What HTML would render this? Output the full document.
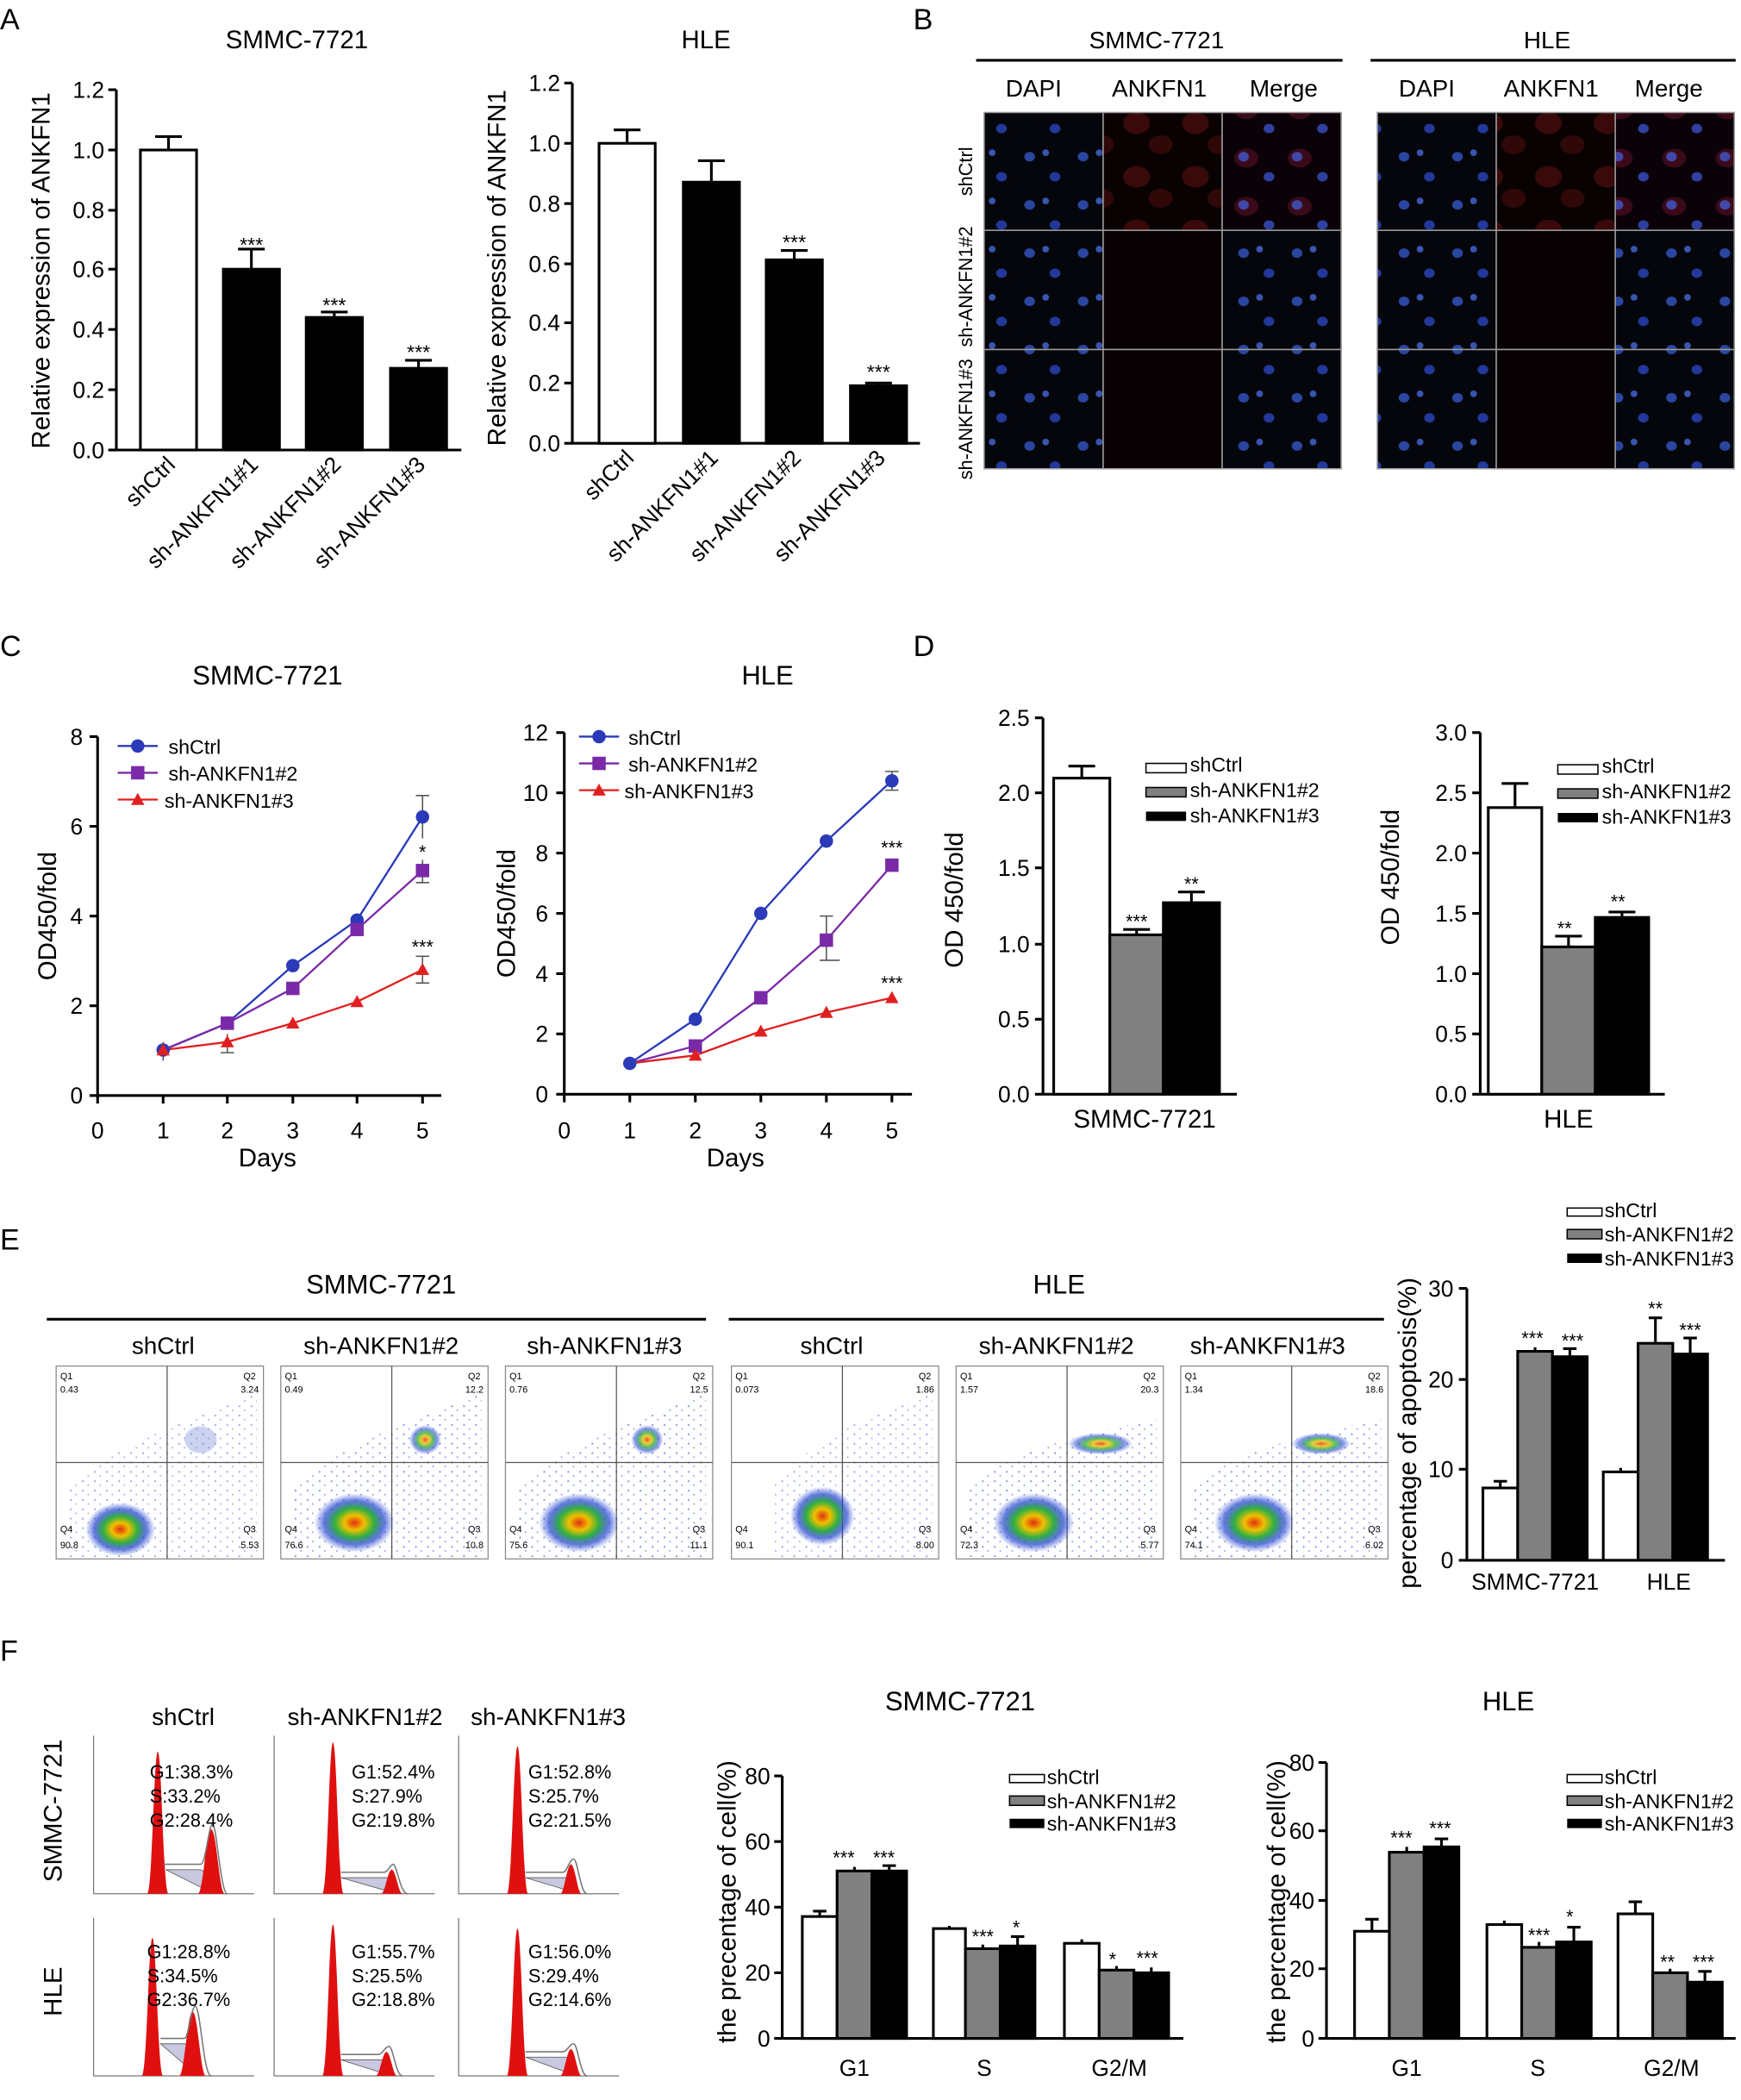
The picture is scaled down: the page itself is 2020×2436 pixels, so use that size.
<!DOCTYPE html><html><head><meta charset="utf-8"><style>body{margin:0;background:#fff}svg{display:block}text{font-family:"Liberation Sans",Arial,sans-serif}</style></head><body>
<svg width="2020" height="2436" viewBox="0 0 1302 1568" preserveAspectRatio="none" xmlns="http://www.w3.org/2000/svg">
<defs>
<pattern id="dots" width="40" height="36" patternUnits="userSpaceOnUse"><rect width="40" height="36" fill="#05060c"/><ellipse cx="10" cy="9" rx="4" ry="3.5" fill="#2a46a0"/><ellipse cx="29" cy="24" rx="4" ry="3.5" fill="#22389a"/><ellipse cx="22" cy="6" rx="2.5" ry="2.5" fill="#3a55b0"/></pattern>
<pattern id="red" width="44" height="40" patternUnits="userSpaceOnUse"><rect width="44" height="40" fill="#0a0202"/><ellipse cx="14" cy="12" rx="10" ry="8" fill="#3a0a0a"/><ellipse cx="32" cy="28" rx="9" ry="7" fill="#300808"/></pattern>
<pattern id="mer" width="40" height="36" patternUnits="userSpaceOnUse"><rect width="40" height="36" fill="#0a0208"/><ellipse cx="12" cy="10" rx="9" ry="7" fill="#3a0a18"/><ellipse cx="10" cy="9" rx="4" ry="3.5" fill="#4048a8"/><ellipse cx="29" cy="24" rx="4" ry="3.5" fill="#3040a0"/></pattern>
<pattern id="scat" width="9" height="7" patternUnits="userSpaceOnUse"><circle cx="2" cy="2" r=".7" fill="#3050d0"/><circle cx="6" cy="5" r=".6" fill="#3050d0"/></pattern>
<radialGradient id="blob"><stop offset="0" stop-color="#e03010"/><stop offset="0.25" stop-color="#f0c000"/><stop offset="0.5" stop-color="#30b040"/><stop offset="0.75" stop-color="#2040d0" stop-opacity=".7"/><stop offset="1" stop-color="#2040d0" stop-opacity="0"/></radialGradient>
</defs>
<g font-size="22">
<text x="0" y="22">A</text><text x="683" y="22">B</text><text x="0" y="490">C</text><text x="683" y="490">D</text><text x="0" y="933">E</text><text x="0" y="1240">F</text>
</g>
<!-- A left -->
<g font-size="17" fill="#000">
<text x="222" y="36" text-anchor="middle" font-size="19">SMMC-7721</text>
<text x="528" y="36" text-anchor="middle" font-size="19">HLE</text>
<g stroke="#000" stroke-width="2"><line x1="87" y1="67" x2="87" y2="336"/><line x1="87" y1="336" x2="345" y2="336"/>
<line x1="81" y1="336" x2="87" y2="336"/><line x1="81" y1="291" x2="87" y2="291"/><line x1="81" y1="246" x2="87" y2="246"/><line x1="81" y1="201" x2="87" y2="201"/><line x1="81" y1="157" x2="87" y2="157"/><line x1="81" y1="112" x2="87" y2="112"/><line x1="81" y1="67" x2="87" y2="67"/></g>
<g text-anchor="end"><text x="78" y="342">0.0</text><text x="78" y="297">0.2</text><text x="78" y="252">0.4</text><text x="78" y="207">0.6</text><text x="78" y="163">0.8</text><text x="78" y="118">1.0</text><text x="78" y="73">1.2</text></g>
<text transform="translate(37,202) rotate(-90)" text-anchor="middle" font-size="19">Relative expression of ANKFN1</text>
<g stroke="#000" stroke-width="2"><rect x="105" y="112" width="42" height="224" fill="#fff"/><rect x="167" y="201" width="42" height="135"/><rect x="229" y="237" width="42" height="99"/><rect x="292" y="275" width="42" height="61"/>
<path d="M126 112V102M116 102H136M188 201V186M178 186H198M250 237V233M240 233H260M313 275V269M303 269H323" fill="none"/></g>
<g text-anchor="middle" font-size="15"><text x="188" y="188">***</text><text x="250" y="233">***</text><text x="313" y="268">***</text></g>
<g text-anchor="end"><text transform="translate(132,348) rotate(-45)">shCtrl</text><text transform="translate(194,348) rotate(-45)">sh-ANKFN1#1</text><text transform="translate(256,348) rotate(-45)">sh-ANKFN1#2</text><text transform="translate(319,348) rotate(-45)">sh-ANKFN1#3</text></g>
<!-- A right -->
<g stroke="#000" stroke-width="2"><line x1="428" y1="62" x2="428" y2="331"/><line x1="428" y1="331" x2="688" y2="331"/>
<line x1="422" y1="331" x2="428" y2="331"/><line x1="422" y1="286" x2="428" y2="286"/><line x1="422" y1="241" x2="428" y2="241"/><line x1="422" y1="197" x2="428" y2="197"/><line x1="422" y1="152" x2="428" y2="152"/><line x1="422" y1="107" x2="428" y2="107"/><line x1="422" y1="62" x2="428" y2="62"/></g>
<g text-anchor="end"><text x="419" y="337">0.0</text><text x="419" y="292">0.2</text><text x="419" y="247">0.4</text><text x="419" y="203">0.6</text><text x="419" y="158">0.8</text><text x="419" y="113">1.0</text><text x="419" y="68">1.2</text></g>
<text transform="translate(378,200) rotate(-90)" text-anchor="middle" font-size="19">Relative expression of ANKFN1</text>
<g stroke="#000" stroke-width="2"><rect x="448" y="107" width="42" height="224" fill="#fff"/><rect x="511" y="136" width="42" height="195"/><rect x="573" y="194" width="42" height="137"/><rect x="636" y="288" width="42" height="43"/>
<path d="M469 107V97M459 97H479M532 136V120M522 120H542M594 194V187M584 187H604M657 288V286M647 286H667" fill="none"/></g>
<g text-anchor="middle" font-size="15"><text x="594" y="186">***</text><text x="657" y="283">***</text></g>
<g text-anchor="end"><text transform="translate(475,343) rotate(-45)">shCtrl</text><text transform="translate(538,343) rotate(-45)">sh-ANKFN1#1</text><text transform="translate(600,343) rotate(-45)">sh-ANKFN1#2</text><text transform="translate(663,343) rotate(-45)">sh-ANKFN1#3</text></g>
</g>
<!-- B -->
<g font-size="18" text-anchor="middle">
<text x="865" y="36">SMMC-7721</text><text x="1157" y="36">HLE</text>
<line x1="730" y1="45" x2="1004" y2="45" stroke="#000" stroke-width="2"/><line x1="1025" y1="45" x2="1298" y2="45" stroke="#000" stroke-width="2"/>
<text x="773" y="72">DAPI</text><text x="867" y="72">ANKFN1</text><text x="960" y="72">Merge</text>
<text x="1067" y="72">DAPI</text><text x="1160" y="72">ANKFN1</text><text x="1248" y="72">Merge</text>
<g font-size="14"><text transform="translate(727,128) rotate(-90)">shCtrl</text><text transform="translate(727,214) rotate(-90)">sh-ANKFN1#2</text><text transform="translate(727,313) rotate(-90)">sh-ANKFN1#3</text></g>
</g>
<g stroke="#999" stroke-width="1">
<rect x="736" y="84" width="89" height="88" fill="url(#dots)"/><rect x="825" y="84" width="89" height="88" fill="url(#red)"/><rect x="914" y="84" width="89" height="88" fill="url(#mer)"/>
<rect x="736" y="172" width="89" height="89" fill="url(#dots)"/><rect x="825" y="172" width="89" height="89" fill="#080103"/><rect x="914" y="172" width="89" height="89" fill="url(#dots)"/>
<rect x="736" y="261" width="89" height="89" fill="url(#dots)"/><rect x="825" y="261" width="89" height="89" fill="#080103"/><rect x="914" y="261" width="89" height="89" fill="url(#dots)"/>
<rect x="1030" y="84" width="89" height="88" fill="url(#dots)"/><rect x="1119" y="84" width="89" height="88" fill="url(#red)"/><rect x="1208" y="84" width="89" height="88" fill="url(#mer)"/>
<rect x="1030" y="172" width="89" height="89" fill="url(#dots)"/><rect x="1119" y="172" width="89" height="89" fill="#080103"/><rect x="1208" y="172" width="89" height="89" fill="url(#dots)"/>
<rect x="1030" y="261" width="89" height="89" fill="url(#dots)"/><rect x="1119" y="261" width="89" height="89" fill="#080103"/><rect x="1208" y="261" width="89" height="89" fill="url(#dots)"/>
</g>
<!-- C -->
<g font-size="17">
<text x="200" y="511" text-anchor="middle" font-size="20">SMMC-7721</text><text x="574" y="511" text-anchor="middle" font-size="20">HLE</text>
<g stroke="#000" stroke-width="2"><line x1="73" y1="550" x2="73" y2="818"/><line x1="73" y1="818" x2="330" y2="818"/>
<path d="M67 818H73M67 751H73M67 684H73M67 617H73M67 550H73M73 818V824M122 818V824M170 818V824M219 818V824M267 818V824M316 818V824"/></g>
<g text-anchor="end"><text x="62" y="824">0</text><text x="62" y="757">2</text><text x="62" y="690">4</text><text x="62" y="623">6</text><text x="62" y="556">8</text></g>
<g text-anchor="middle"><text x="73" y="850">0</text><text x="122" y="850">1</text><text x="170" y="850">2</text><text x="219" y="850">3</text><text x="267" y="850">4</text><text x="316" y="850">5</text><text x="200" y="871" font-size="19">Days</text></g>
<text transform="translate(42,684) rotate(-90)" text-anchor="middle" font-size="19">OD450/fold</text>
<polyline points="122,784 170,764 219,721 267,687 316,610" fill="none" stroke="#2a3ab8" stroke-width="1.5"/>
<polyline points="122,784 170,764 219,738 267,694 316,650" fill="none" stroke="#7a2aa8" stroke-width="1.5"/>
<polyline points="122,784 170,778 219,764 267,748 316,724" fill="none" stroke="#e02020" stroke-width="1.5"/>
<path d="M316 594V626M311 594H321M316 642V659M311 659H321M316 714V734M311 714H321M311 734H321M170 772V786M165 786H175M122 778V792" stroke="#555" fill="none"/>
<g fill="#2a3ab8"><circle cx="122" cy="784" r="5"/><circle cx="170" cy="764" r="5"/><circle cx="219" cy="721" r="5"/><circle cx="267" cy="687" r="5"/><circle cx="316" cy="610" r="5"/></g>
<g fill="#7a2aa8"><rect x="165" y="759" width="10" height="10"/><rect x="214" y="733" width="10" height="10"/><rect x="262" y="689" width="10" height="10"/><rect x="311" y="645" width="10" height="10"/></g>
<g fill="#e02020"><path d="M122 779l5 9h-10zM170 773l5 9h-10zM219 759l5 9h-10zM267 743l5 9h-10zM316 719l5 9h-10z"/></g>
<text x="316" y="641" text-anchor="middle" font-size="14">*</text><text x="316" y="712" text-anchor="middle" font-size="14">***</text>
<line x1="88" y1="557" x2="118" y2="557" stroke="#2a3ab8" stroke-width="1.5"/><circle cx="103" cy="557" r="5" fill="#2a3ab8"/><text x="126" y="563" font-size="15">shCtrl</text>
<line x1="88" y1="577" x2="118" y2="577" stroke="#7a2aa8" stroke-width="1.5"/><rect x="98" y="572" width="10" height="10" fill="#7a2aa8"/><text x="126" y="583" font-size="15">sh-ANKFN1#2</text>
<line x1="88" y1="597" x2="118" y2="597" stroke="#e02020" stroke-width="1.5"/><path d="M103 592l5 9h-10z" fill="#e02020"/><text x="123" y="603" font-size="15">sh-ANKFN1#3</text>
<!-- C right -->
<g stroke="#000" stroke-width="2"><line x1="422" y1="547" x2="422" y2="817"/><line x1="422" y1="817" x2="682" y2="817"/>
<path d="M416 817H422M416 772H422M416 727H422M416 682H422M416 637H422M416 592H422M416 547H422M422 817V823M471 817V823M520 817V823M569 817V823M618 817V823M667 817V823"/></g>
<g text-anchor="end"><text x="410" y="823">0</text><text x="410" y="778">2</text><text x="410" y="733">4</text><text x="410" y="688">6</text><text x="410" y="643">8</text><text x="410" y="598">10</text><text x="410" y="553">12</text></g>
<g text-anchor="middle"><text x="422" y="850">0</text><text x="471" y="850">1</text><text x="520" y="850">2</text><text x="569" y="850">3</text><text x="618" y="850">4</text><text x="667" y="850">5</text><text x="550" y="871" font-size="19">Days</text></g>
<text transform="translate(385,682) rotate(-90)" text-anchor="middle" font-size="19">OD450/fold</text>
<polyline points="471,794 520,761 569,682 618,628 667,583" fill="none" stroke="#2a3ab8" stroke-width="1.5"/>
<polyline points="471,794 520,781 569,745 618,702 667,646" fill="none" stroke="#7a2aa8" stroke-width="1.5"/>
<polyline points="471,794 520,788 569,770 618,756 667,745" fill="none" stroke="#e02020" stroke-width="1.5"/>
<path d="M618 684V717M613 684H623M613 717H628M667 576V590M662 576H672M662 590H672" stroke="#555" fill="none"/>
<g fill="#2a3ab8"><circle cx="471" cy="794" r="5"/><circle cx="520" cy="761" r="5"/><circle cx="569" cy="682" r="5"/><circle cx="618" cy="628" r="5"/><circle cx="667" cy="583" r="5"/></g>
<g fill="#7a2aa8"><rect x="515" y="776" width="10" height="10"/><rect x="564" y="740" width="10" height="10"/><rect x="613" y="697" width="10" height="10"/><rect x="662" y="641" width="10" height="10"/></g>
<g fill="#e02020"><path d="M520 783l5 9h-10zM569 765l5 9h-10zM618 751l5 9h-10zM667 740l5 9h-10z"/></g>
<text x="667" y="638" text-anchor="middle" font-size="14">***</text><text x="667" y="739" text-anchor="middle" font-size="14">***</text>
<line x1="433" y1="550" x2="463" y2="550" stroke="#2a3ab8" stroke-width="1.5"/><circle cx="448" cy="550" r="5" fill="#2a3ab8"/><text x="470" y="556" font-size="15">shCtrl</text>
<line x1="433" y1="570" x2="463" y2="570" stroke="#7a2aa8" stroke-width="1.5"/><rect x="443" y="565" width="10" height="10" fill="#7a2aa8"/><text x="470" y="576" font-size="15">sh-ANKFN1#2</text>
<line x1="433" y1="590" x2="463" y2="590" stroke="#e02020" stroke-width="1.5"/><path d="M448 585l5 9h-10z" fill="#e02020"/><text x="467" y="596" font-size="15">sh-ANKFN1#3</text>
</g>
<!-- D -->
<g font-size="17">
<g stroke="#000" stroke-width="2"><line x1="780" y1="536" x2="780" y2="817"/><line x1="780" y1="817" x2="925" y2="817"/>
<path d="M774 817H780M774 761H780M774 705H780M774 648H780M774 592H780M774 536H780"/>
<rect x="788" y="581" width="42" height="236" fill="#fff"/><rect x="830" y="698" width="40" height="119" fill="#808080"/><rect x="870" y="674" width="42" height="143" fill="#000"/>
<path d="M809 581V572M799 572H819M850 698V694M840 694H860M891 674V666M881 666H901" fill="none"/></g>
<g text-anchor="end"><text x="770" y="823">0.0</text><text x="770" y="767">0.5</text><text x="770" y="711">1.0</text><text x="770" y="654">1.5</text><text x="770" y="598">2.0</text><text x="770" y="542">2.5</text></g>
<text transform="translate(720,672) rotate(-90)" text-anchor="middle" font-size="19">OD 450/fold</text>
<text x="856" y="842" text-anchor="middle" font-size="19">SMMC-7721</text>
<g text-anchor="middle" font-size="14"><text x="850" y="693">***</text><text x="891" y="665">**</text></g>
<rect x="857" y="570" width="30" height="7" fill="#fff" stroke="#000"/><text x="890" y="576" font-size="15">shCtrl</text>
<rect x="857" y="588" width="30" height="7" fill="#808080" stroke="#000"/><text x="890" y="595" font-size="15">sh-ANKFN1#2</text>
<rect x="857" y="606" width="30" height="7" fill="#000"/><text x="890" y="614" font-size="15">sh-ANKFN1#3</text>
<g stroke="#000" stroke-width="2"><line x1="1107" y1="547" x2="1107" y2="817"/><line x1="1107" y1="817" x2="1245" y2="817"/>
<path d="M1101 817H1107M1101 772H1107M1101 727H1107M1101 682H1107M1101 637H1107M1101 592H1107M1101 547H1107"/>
<rect x="1113" y="603" width="40" height="214" fill="#fff"/><rect x="1153" y="707" width="40" height="110" fill="#808080"/><rect x="1193" y="685" width="40" height="132" fill="#000"/>
<path d="M1133 603V585M1123 585H1143M1173 707V699M1163 699H1183M1213 685V681M1203 681H1223" fill="none"/></g>
<g text-anchor="end"><text x="1097" y="823">0.0</text><text x="1097" y="778">0.5</text><text x="1097" y="733">1.0</text><text x="1097" y="688">1.5</text><text x="1097" y="643">2.0</text><text x="1097" y="598">2.5</text><text x="1097" y="553">3.0</text></g>
<text transform="translate(1046,655) rotate(-90)" text-anchor="middle" font-size="19">OD 450/fold</text>
<text x="1173" y="842" text-anchor="middle" font-size="19">HLE</text>
<g text-anchor="middle" font-size="14"><text x="1170" y="698">**</text><text x="1210" y="678">**</text></g>
<rect x="1165" y="571" width="30" height="7" fill="#fff" stroke="#000"/><text x="1198" y="577" font-size="15">shCtrl</text>
<rect x="1165" y="589" width="30" height="7" fill="#808080" stroke="#000"/><text x="1198" y="596" font-size="15">sh-ANKFN1#2</text>
<rect x="1165" y="607" width="30" height="7" fill="#000"/><text x="1198" y="615" font-size="15">sh-ANKFN1#3</text>
</g>
<!-- E -->
<g font-size="18" text-anchor="middle">
<text x="285" y="966" font-size="20">SMMC-7721</text><text x="792" y="966" font-size="20">HLE</text>
<line x1="35" y1="985" x2="528" y2="985" stroke="#000" stroke-width="2"/><line x1="545" y1="985" x2="1035" y2="985" stroke="#000" stroke-width="2"/>
<text x="122" y="1011">shCtrl</text><text x="285" y="1011">sh-ANKFN1#2</text><text x="452" y="1011">sh-ANKFN1#3</text>
<text x="622" y="1011">shCtrl</text><text x="790" y="1011">sh-ANKFN1#2</text><text x="948" y="1011">sh-ANKFN1#3</text>
</g>
<g font-size="7" stroke-width="0.8">
<g transform="translate(42,1020)"><rect width="155" height="144" fill="#fff" stroke="#888"/><path d="M10 144L10 90Q40 60 150 20L150 144Z" fill="url(#scat)" opacity=".5"/><path d="M83 0V144M0 72H155" stroke="#555"/><ellipse cx="48" cy="122" rx="26" ry="20" fill="url(#blob)"/><ellipse cx="108" cy="55" rx="12" ry="10" fill="#6a80d8" opacity=".35"/><text x="3" y="10">Q1</text><text x="3" y="20">0.43</text><text x="140" y="10">Q2</text><text x="138" y="20">3.24</text><text x="3" y="124">Q4</text><text x="3" y="136">90.8</text><text x="140" y="124">Q3</text><text x="138" y="136">5.53</text></g>
<g transform="translate(210,1020)"><rect width="155" height="144" fill="#fff" stroke="#888"/><path d="M10 144L10 90Q40 60 150 20L150 144Z" fill="url(#scat)" opacity=".6"/><path d="M83 0V144M0 72H155" stroke="#555"/><ellipse cx="55" cy="117" rx="30" ry="22" fill="url(#blob)"/><ellipse cx="108" cy="55" rx="12" ry="11" fill="url(#blob)" opacity=".8"/><text x="3" y="10">Q1</text><text x="3" y="20">0.49</text><text x="140" y="10">Q2</text><text x="138" y="20">12.2</text><text x="3" y="124">Q4</text><text x="3" y="136">76.6</text><text x="140" y="124">Q3</text><text x="138" y="136">10.8</text></g>
<g transform="translate(378,1020)"><rect width="155" height="144" fill="#fff" stroke="#888"/><path d="M10 144L10 90Q40 60 150 20L150 144Z" fill="url(#scat)" opacity=".6"/><path d="M83 0V144M0 72H155" stroke="#555"/><ellipse cx="55" cy="117" rx="30" ry="22" fill="url(#blob)"/><ellipse cx="106" cy="55" rx="12" ry="11" fill="url(#blob)" opacity=".8"/><text x="3" y="10">Q1</text><text x="3" y="20">0.76</text><text x="140" y="10">Q2</text><text x="138" y="20">12.5</text><text x="3" y="124">Q4</text><text x="3" y="136">75.6</text><text x="140" y="124">Q3</text><text x="138" y="136">11.1</text></g>
<g transform="translate(547,1020)"><rect width="155" height="144" fill="#fff" stroke="#888"/><path d="M30 144L30 90Q60 50 150 20L150 144Z" fill="url(#scat)" opacity=".5"/><path d="M83 0V144M0 72H155" stroke="#555"/><ellipse cx="68" cy="112" rx="24" ry="22" fill="url(#blob)"/><text x="3" y="10">Q1</text><text x="3" y="20">0.073</text><text x="140" y="10">Q2</text><text x="138" y="20">1.86</text><text x="3" y="124">Q4</text><text x="3" y="136">90.1</text><text x="140" y="124">Q3</text><text x="138" y="136">8.00</text></g>
<g transform="translate(715,1020)"><rect width="155" height="144" fill="#fff" stroke="#888"/><path d="M10 144L10 90Q40 60 150 40L150 144Z" fill="url(#scat)" opacity=".6"/><path d="M83 0V144M0 72H155" stroke="#555"/><ellipse cx="58" cy="117" rx="30" ry="22" fill="url(#blob)"/><ellipse cx="108" cy="58" rx="24" ry="8" fill="url(#blob)" opacity=".8"/><text x="3" y="10">Q1</text><text x="3" y="20">1.57</text><text x="140" y="10">Q2</text><text x="138" y="20">20.3</text><text x="3" y="124">Q4</text><text x="3" y="136">72.3</text><text x="140" y="124">Q3</text><text x="138" y="136">5.77</text></g>
<g transform="translate(883,1020)"><rect width="155" height="144" fill="#fff" stroke="#888"/><path d="M10 144L10 90Q40 60 150 40L150 144Z" fill="url(#scat)" opacity=".6"/><path d="M83 0V144M0 72H155" stroke="#555"/><ellipse cx="55" cy="117" rx="30" ry="22" fill="url(#blob)"/><ellipse cx="105" cy="58" rx="22" ry="8" fill="url(#blob)" opacity=".8"/><text x="3" y="10">Q1</text><text x="3" y="20">1.34</text><text x="140" y="10">Q2</text><text x="138" y="20">18.6</text><text x="3" y="124">Q4</text><text x="3" y="136">74.1</text><text x="140" y="124">Q3</text><text x="138" y="136">6.02</text></g>
</g>
<g font-size="17">
<g stroke="#000" stroke-width="2"><line x1="1097" y1="962" x2="1097" y2="1165"/><line x1="1097" y1="1165" x2="1290" y2="1165"/>
<path d="M1091 1165H1097M1091 1097H1097M1091 1030H1097M1091 962H1097"/>
<rect x="1109" y="1111" width="26" height="54" fill="#fff"/><rect x="1135" y="1009" width="26" height="156" fill="#808080"/><rect x="1161" y="1013" width="26" height="152" fill="#000"/>
<rect x="1199" y="1099" width="26" height="66" fill="#fff"/><rect x="1225" y="1003" width="26" height="162" fill="#808080"/><rect x="1251" y="1011" width="26" height="154" fill="#000"/>
<path d="M1122 1111V1106M1117 1106H1127M1148 1009V1006M1174 1013V1007M1169 1007H1179M1212 1099V1096M1238 1003V984M1233 984H1243M1264 1011V999M1259 999H1269" fill="none"/></g>
<g text-anchor="end"><text x="1087" y="1171">0</text><text x="1087" y="1103">10</text><text x="1087" y="1036">20</text><text x="1087" y="968">30</text></g>
<text transform="translate(1059,1070) rotate(-90)" text-anchor="middle" font-size="19">percentage of apoptosis(%)</text>
<text x="1148" y="1187" text-anchor="middle">SMMC-7721</text><text x="1248" y="1187" text-anchor="middle">HLE</text>
<g text-anchor="middle" font-size="14"><text x="1146" y="1004">***</text><text x="1176" y="1006">***</text><text x="1238" y="982">**</text><text x="1264" y="998">***</text></g>
<rect x="1172" y="902" width="26" height="6" fill="#fff" stroke="#000"/><text x="1200" y="909" font-size="15">shCtrl</text>
<rect x="1172" y="918" width="26" height="7" fill="#808080" stroke="#000"/><text x="1200" y="927" font-size="15">sh-ANKFN1#2</text>
<rect x="1172" y="936" width="26" height="7" fill="#000"/><text x="1200" y="945" font-size="15">sh-ANKFN1#3</text>
</g>
<!-- F histograms -->
<g font-size="18" text-anchor="middle"><text x="137" y="1288">shCtrl</text><text x="273" y="1288">sh-ANKFN1#2</text><text x="410" y="1288">sh-ANKFN1#3</text>
<text transform="translate(46,1352) rotate(-90)" font-size="19">SMMC-7721</text><text transform="translate(46,1487) rotate(-90)" font-size="19">HLE</text></g>
<g font-size="14">
<g transform="translate(70,1296)"><path d="M0 0V118H120" fill="none" stroke="#777" stroke-width=".8"/><path d="M40 118C44 118 45 12 48 12C51 12 52 118 56 118Z" fill="#e01010"/><path d="M54 100H80C84 100 86 118 90 118Z" fill="#c8c8e0" stroke="#666" stroke-width=".6"/><path d="M78 118C82 118 84 70 88 70C92 70 94 118 98 118Z" fill="#e01010"/><path d="M52 96H80C84 96 86 66 89 66C92 66 95 118 100 118" fill="none" stroke="#777"/><text x="42" y="32">G1:38.3%</text><text x="42" y="50">S:33.2%</text><text x="42" y="68">G2:28.4%</text></g>
<g transform="translate(205,1296)"><path d="M0 0V118H120" fill="none" stroke="#777" stroke-width=".8"/><path d="M36 118C40 118 41 5 44 5C47 5 48 118 52 118Z" fill="#e01010"/><path d="M50 106H85C88 106 90 118 92 118Z" fill="#c8c8e0" stroke="#666" stroke-width=".6"/><path d="M80 118C83 118 85 100 88 100C91 100 93 118 96 118Z" fill="#e01010"/><path d="M50 102H82C85 102 87 96 89 96C92 96 94 118 100 118" fill="none" stroke="#777"/><text x="58" y="32">G1:52.4%</text><text x="58" y="50">S:27.9%</text><text x="58" y="68">G2:19.8%</text></g>
<g transform="translate(343,1296)"><path d="M0 0V118H120" fill="none" stroke="#777" stroke-width=".8"/><path d="M36 118C40 118 41 8 44 8C47 8 48 118 52 118Z" fill="#e01010"/><path d="M50 106H82C85 106 88 118 90 118Z" fill="#c8c8e0" stroke="#666" stroke-width=".6"/><path d="M76 118C79 118 81 96 84 96C87 96 89 118 92 118Z" fill="#e01010"/><path d="M50 102H78C81 102 83 92 86 92C89 92 91 118 96 118" fill="none" stroke="#777"/><text x="52" y="32">G1:52.8%</text><text x="52" y="50">S:25.7%</text><text x="52" y="68">G2:21.5%</text></g>
<g transform="translate(70,1432)"><path d="M0 0V118H120" fill="none" stroke="#777" stroke-width=".8"/><path d="M36 118C40 118 41 15 44 15C47 15 48 118 52 118Z" fill="#e01010"/><path d="M50 94H68C72 94 74 118 78 118Z" fill="#c8c8e0" stroke="#666" stroke-width=".6"/><path d="M64 118C68 118 70 70 74 70C78 70 80 118 84 118Z" fill="#e01010"/><path d="M50 90H68C71 90 73 66 76 66C80 66 82 118 88 118" fill="none" stroke="#777"/><text x="40" y="30">G1:28.8%</text><text x="40" y="48">S:34.5%</text><text x="40" y="66">G2:36.7%</text></g>
<g transform="translate(205,1432)"><path d="M0 0V118H120" fill="none" stroke="#777" stroke-width=".8"/><path d="M36 118C40 118 41 5 44 5C47 5 48 118 52 118Z" fill="#e01010"/><path d="M50 106H80C83 106 86 118 88 118Z" fill="#c8c8e0" stroke="#666" stroke-width=".6"/><path d="M76 118C79 118 81 100 84 100C87 100 89 118 92 118Z" fill="#e01010"/><path d="M50 102H78C81 102 83 96 86 96C89 96 91 118 96 118" fill="none" stroke="#777"/><text x="58" y="30">G1:55.7%</text><text x="58" y="48">S:25.5%</text><text x="58" y="66">G2:18.8%</text></g>
<g transform="translate(343,1432)"><path d="M0 0V118H120" fill="none" stroke="#777" stroke-width=".8"/><path d="M36 118C40 118 41 8 44 8C47 8 48 118 52 118Z" fill="#e01010"/><path d="M50 104H80C83 104 86 118 88 118Z" fill="#c8c8e0" stroke="#666" stroke-width=".6"/><path d="M76 118C79 118 81 98 84 98C87 98 89 118 92 118Z" fill="#e01010"/><path d="M50 100H78C81 100 83 94 86 94C89 94 91 118 96 118" fill="none" stroke="#777"/><text x="52" y="30">G1:56.0%</text><text x="52" y="48">S:29.4%</text><text x="52" y="66">G2:14.6%</text></g>
</g>
<!-- F SMMC bars -->
<g font-size="17">
<text x="718" y="1277" text-anchor="middle" font-size="20">SMMC-7721</text><text x="1128" y="1277" text-anchor="middle" font-size="20">HLE</text>
<g stroke="#000" stroke-width="2"><line x1="585" y1="1326" x2="585" y2="1522"/><line x1="585" y1="1522" x2="885" y2="1522"/>
<path d="M579 1522H585M579 1473H585M579 1424H585M579 1375H585M579 1326H585"/>
<rect x="600" y="1431" width="26" height="91" fill="#fff"/><rect x="626" y="1397" width="26" height="125" fill="#808080"/><rect x="652" y="1397" width="26" height="125" fill="#000"/>
<rect x="698" y="1440" width="24" height="82" fill="#fff"/><rect x="722" y="1455" width="26" height="67" fill="#808080"/><rect x="748" y="1453" width="26" height="69" fill="#000"/>
<rect x="796" y="1451" width="26" height="71" fill="#fff"/><rect x="822" y="1471" width="26" height="51" fill="#808080"/><rect x="848" y="1473" width="26" height="49" fill="#000"/>
<path d="M613 1431V1427M608 1427H618M639 1397V1394M665 1397V1393M660 1393H670M710 1440V1438M735 1455V1452M761 1453V1446M756 1446H766M809 1451V1448M835 1471V1468M861 1473V1469" fill="none"/></g>
<g text-anchor="end"><text x="576" y="1528">0</text><text x="576" y="1479">20</text><text x="576" y="1430">40</text><text x="576" y="1381">60</text><text x="576" y="1332">80</text></g>
<text transform="translate(550,1420) rotate(-90)" text-anchor="middle" font-size="19">the precentage of cell(%)</text>
<g text-anchor="middle"><text x="639" y="1550">G1</text><text x="736" y="1550">S</text><text x="837" y="1550">G2/M</text></g>
<g text-anchor="middle" font-size="14"><text x="631" y="1392">***</text><text x="661" y="1392">***</text><text x="735" y="1451">***</text><text x="760" y="1444">*</text><text x="832" y="1468">*</text><text x="858" y="1467">***</text></g>
<rect x="755" y="1325" width="26" height="6" fill="#fff" stroke="#000"/><text x="783" y="1332" font-size="15">shCtrl</text>
<rect x="755" y="1341" width="26" height="7" fill="#808080" stroke="#000"/><text x="783" y="1350" font-size="15">sh-ANKFN1#2</text>
<rect x="755" y="1358" width="26" height="7" fill="#000"/><text x="783" y="1367" font-size="15">sh-ANKFN1#3</text>
<!-- F HLE bars -->
<g stroke="#000" stroke-width="2"><line x1="992" y1="1316" x2="992" y2="1522"/><line x1="992" y1="1522" x2="1298" y2="1522"/>
<path d="M986 1522H992M986 1470H992M986 1419H992M986 1367H992M986 1316H992"/>
<rect x="1013" y="1442" width="26" height="80" fill="#fff"/><rect x="1039" y="1383" width="26" height="139" fill="#808080"/><rect x="1065" y="1379" width="26" height="143" fill="#000"/>
<rect x="1112" y="1437" width="26" height="85" fill="#fff"/><rect x="1138" y="1454" width="26" height="68" fill="#808080"/><rect x="1164" y="1450" width="26" height="72" fill="#000"/>
<rect x="1210" y="1429" width="26" height="93" fill="#fff"/><rect x="1236" y="1473" width="26" height="49" fill="#808080"/><rect x="1262" y="1480" width="26" height="42" fill="#000"/>
<path d="M1026 1442V1433M1021 1433H1031M1052 1383V1379M1078 1379V1373M1073 1373H1083M1125 1437V1434M1151 1454V1450M1177 1450V1439M1172 1439H1182M1223 1429V1420M1218 1420H1228M1249 1473V1470M1275 1480V1472M1270 1472H1280" fill="none"/></g>
<g text-anchor="end"><text x="983" y="1528">0</text><text x="983" y="1476">20</text><text x="983" y="1425">40</text><text x="983" y="1373">60</text><text x="983" y="1322">80</text></g>
<text transform="translate(961,1420) rotate(-90)" text-anchor="middle" font-size="19">the percentage of cell(%)</text>
<g text-anchor="middle"><text x="1052" y="1550">G1</text><text x="1150" y="1550">S</text><text x="1250" y="1550">G2/M</text></g>
<g text-anchor="middle" font-size="14"><text x="1048" y="1377">***</text><text x="1077" y="1370">***</text><text x="1151" y="1450">***</text><text x="1174" y="1436">*</text><text x="1247" y="1470">**</text><text x="1274" y="1470">***</text></g>
<rect x="1172" y="1325" width="26" height="6" fill="#fff" stroke="#000"/><text x="1200" y="1332" font-size="15">shCtrl</text>
<rect x="1172" y="1341" width="26" height="7" fill="#808080" stroke="#000"/><text x="1200" y="1350" font-size="15">sh-ANKFN1#2</text>
<rect x="1172" y="1358" width="26" height="7" fill="#000"/><text x="1200" y="1367" font-size="15">sh-ANKFN1#3</text>
</g>
</svg>
</body></html>
